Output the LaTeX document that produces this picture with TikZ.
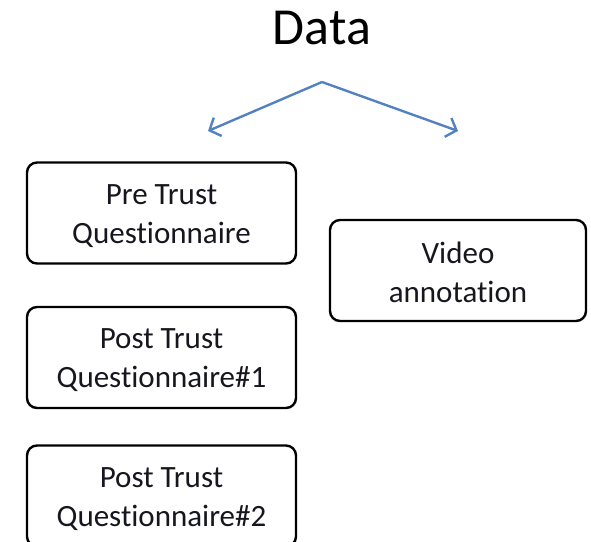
\documentclass[tikz,border=0pt]{standalone}
\usepackage{fontspec}
\setmainfont[Ligatures={NoCommon}]{Carlito}
\usepackage{xcolor}
\usepackage{tikz}
\usetikzlibrary{arrows.meta, positioning}
\definecolor{fork}{RGB}{84,130,192}
\definecolor{ink}{RGB}{22,22,30}
% taller first line, so the two lines sit a bit lower in the box
\newcommand{\topstrut}{\rule{0pt}{26pt}}
\tikzset{
    box/.style={
        rectangle,
        rounded corners=10pt,
        draw=black,
        line width=2.4pt,
        align=center,
        inner sep=0pt,
        minimum width=269pt,
        minimum height=101pt,
        text=ink,
        font=\fontsize{31}{39}\selectfont
    },
    branch/.style={-{Straight Barb[length=9pt, width=20pt, line width=2.4pt]}, line width=2.4pt, draw=fork}
}

\begin{document}
\begin{tikzpicture}[x=1pt, y=-1pt]
\useasboundingbox (0,0) rectangle (591,541);

\node[font=\fontsize{52}{60}\selectfont, text=black] (data) at (322,28) {Data};

\coordinate (fork) at (322,82);
\coordinate (leftend) at (208,131);
\coordinate (rightend) at (458,131);

\node[box] (pre) at (161.5,213) {\topstrut Pre Trust\\Questionnaire};
\node[box] (post1) at (161.5,357.5) {\topstrut Post Trust\\Questionnaire\#1};
\node[box] (post2) at (161.5,496) {\topstrut Post Trust\\Questionnaire\#2};
\node[box, minimum width=256pt] (video) at (458,270.5) {\topstrut Video\\annotation};

\draw[branch] (fork) -- (leftend);
\draw[branch] (fork) -- (rightend);

\end{tikzpicture}
\end{document}
